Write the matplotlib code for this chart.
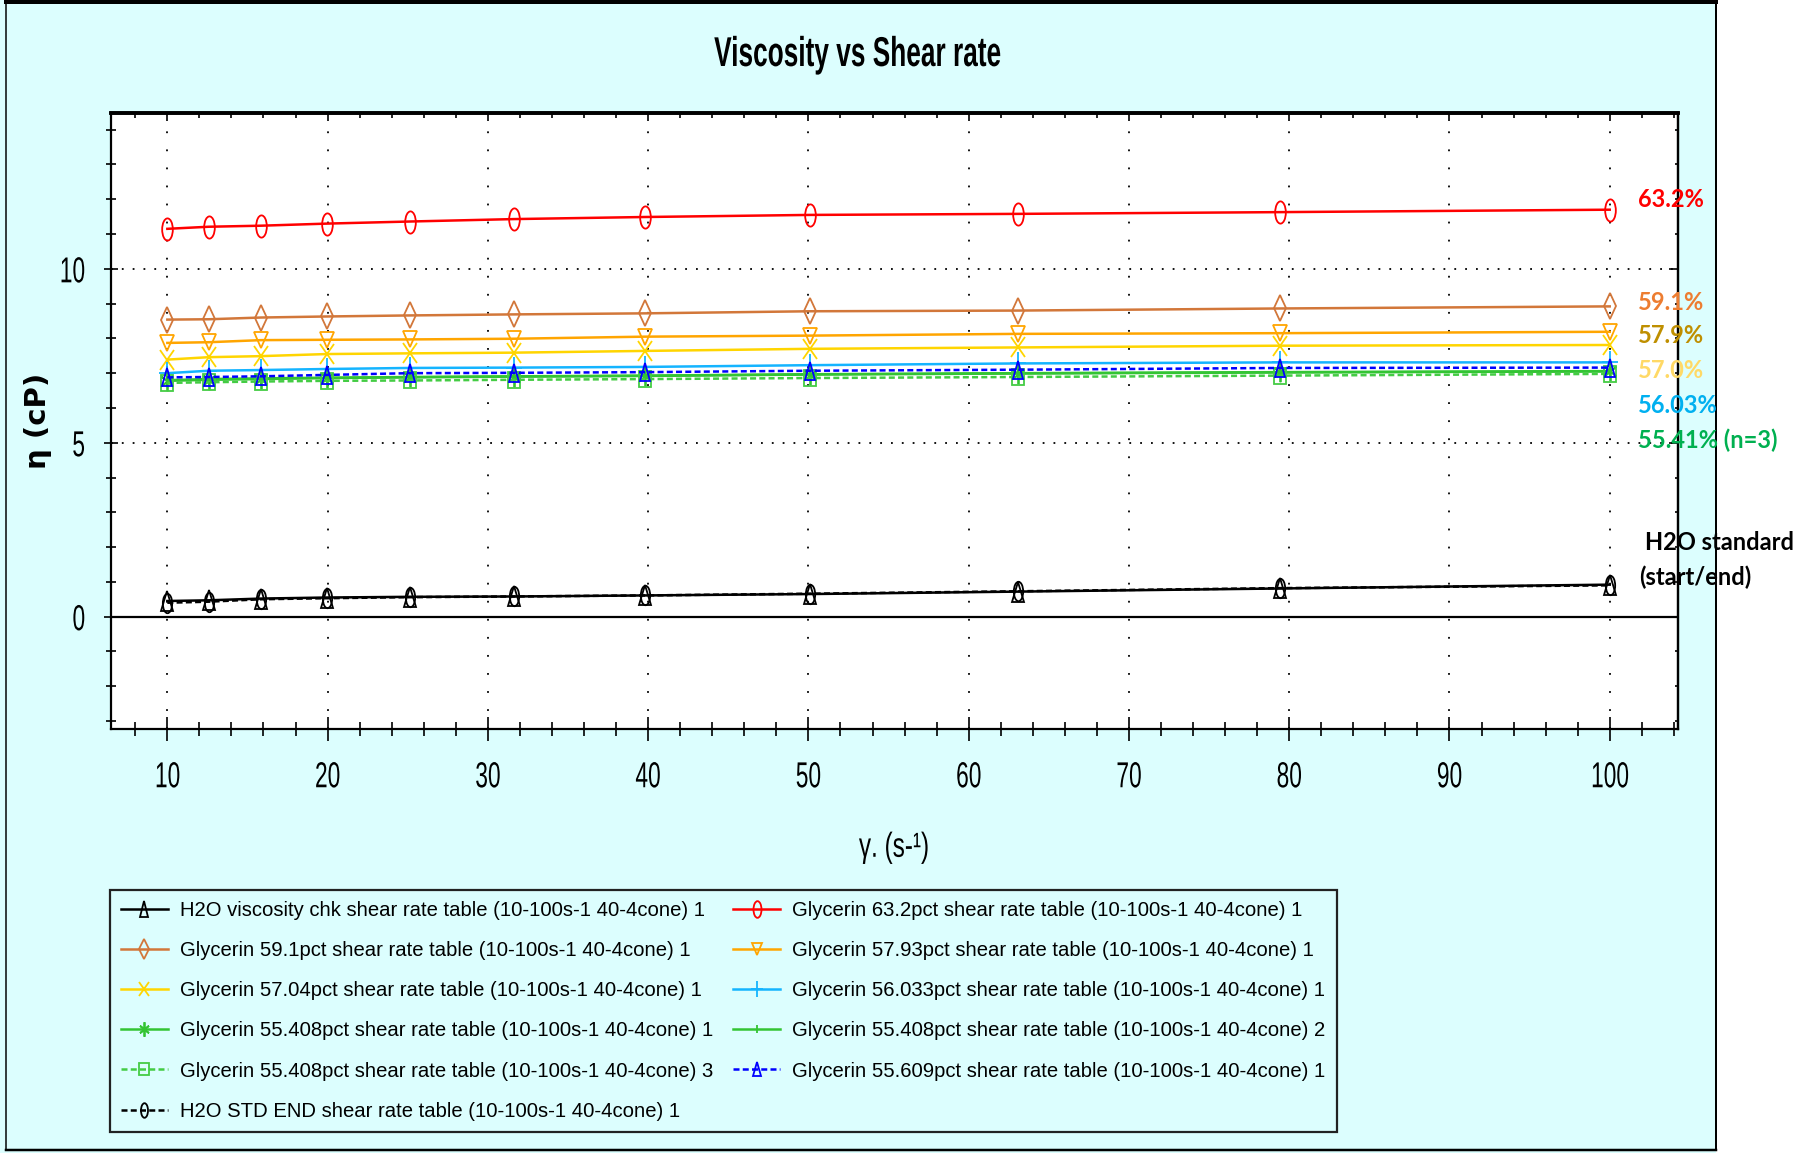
import matplotlib
matplotlib.use("Agg")
import matplotlib.pyplot as plt
from matplotlib.markers import MarkerStyle
from matplotlib.transforms import Affine2D
from matplotlib.ticker import MultipleLocator, FixedLocator
from matplotlib.lines import Line2D
from matplotlib.patches import Rectangle
from matplotlib.patheffects import AbstractPathEffect

# ---- data -----------------------------------------------------------------
shear_rate = [10, 12.59, 15.85, 19.95, 25.12, 31.62, 39.81, 50.12, 63.10, 79.43, 100]

h2o_chk     = [0.45, 0.47, 0.52, 0.55, 0.57, 0.58, 0.61, 0.65, 0.72, 0.81, 0.92]
gly_632     = [11.15, 11.21, 11.24, 11.30, 11.36, 11.43, 11.49, 11.55, 11.58, 11.63, 11.70]
gly_591     = [8.54, 8.55, 8.60, 8.63, 8.66, 8.69, 8.72, 8.78, 8.80, 8.86, 8.92]
gly_5793    = [7.87, 7.89, 7.95, 7.96, 7.97, 7.99, 8.05, 8.08, 8.13, 8.15, 8.19]
gly_5704    = [7.39, 7.46, 7.49, 7.55, 7.57, 7.59, 7.64, 7.70, 7.74, 7.79, 7.81]
gly_56033   = [7.00, 7.07, 7.09, 7.12, 7.15, 7.16, 7.18, 7.23, 7.28, 7.31, 7.31]
gly_55408_1 = [6.78, 6.81, 6.83, 6.86, 6.88, 6.90, 6.92, 6.96, 6.99, 7.02, 7.05]
gly_55408_2 = [6.80, 6.83, 6.85, 6.87, 6.89, 6.91, 6.93, 6.97, 7.00, 7.03, 7.06]
gly_55408_3 = [6.72, 6.74, 6.76, 6.78, 6.79, 6.81, 6.83, 6.86, 6.89, 6.93, 6.98]
gly_55609   = [6.88, 6.89, 6.91, 6.95, 7.00, 7.01, 7.03, 7.07, 7.10, 7.15, 7.16]
h2o_end     = [0.40, 0.43, 0.50, 0.53, 0.56, 0.58, 0.61, 0.66, 0.73, 0.82, 0.90]

labels = [
    "H2O viscosity chk shear rate table (10-100s-1 40-4cone) 1",
    "Glycerin 63.2pct shear rate table (10-100s-1 40-4cone) 1",
    "Glycerin 59.1pct shear rate table (10-100s-1 40-4cone) 1",
    "Glycerin 57.93pct shear rate table (10-100s-1 40-4cone) 1",
    "Glycerin 57.04pct shear rate table (10-100s-1 40-4cone) 1",
    "Glycerin 56.033pct shear rate table (10-100s-1 40-4cone) 1",
    "Glycerin 55.408pct shear rate table (10-100s-1 40-4cone) 1",
    "Glycerin 55.408pct shear rate table (10-100s-1 40-4cone) 2",
    "Glycerin 55.408pct shear rate table (10-100s-1 40-4cone) 3",
    "Glycerin 55.609pct shear rate table (10-100s-1 40-4cone) 1",
    "H2O STD END shear rate table (10-100s-1 40-4cone) 1",
]

note_texts = ["63.2%", "59.1%", "57.9%", "57.0%", "56.03%", "55.41% (n=3)"]
note_colors = ["#FF0000", "#ED7D31", "#BF8F00", "#FFD966", "#00B0F0", "#00B050"]

x_ticks = [10, 20, 30, 40, 50, 60, 70, 80, 90, 100]
y_ticks = [0, 5, 10]


class Condensed(AbstractPathEffect):
    """Squeeze glyphs horizontally about the left, centre or right of the text."""

    def __init__(self, sx, anchor="center"):
        super().__init__()
        self.sx = sx
        self.anchor = anchor

    def draw_path(self, renderer, gc, tpath, affine, rgbFace=None):
        ext = tpath.get_extents(affine)
        if self.anchor == "left":
            cx = ext.x0
        elif self.anchor == "right":
            cx = ext.x1
        else:
            cx = 0.5 * (ext.x0 + ext.x1)
        squeeze = Affine2D().translate(-cx, 0).scale(self.sx, 1.0).translate(cx, 0)
        renderer.draw_path(gc, tpath, affine + squeeze, rgbFace)


# ---- figure ---------------------------------------------------------------
W, H = 1807, 1153
fig = plt.figure(figsize=(W / 100, H / 100), dpi=100, facecolor="white")


def fx(px):
    return px / W


def fy(py):
    return 1 - py / H


SANS = ["Liberation Sans", "DejaVu Sans"]
PANEL = "#DCFEFE"

# light cyan chart panel with its frame
fig.patches.append(Rectangle((0, 0), fx(1716), 1, transform=fig.transFigure,
                             facecolor=PANEL, edgecolor="none", zorder=-10))
for (x0, y0, x1, y1, lw) in [(6, 2, 1716, 2, 4.0), (6, 2, 6, 1150, 1.5),
                             (1716, 2, 1716, 1150, 2.0), (6, 1150, 1716, 1150, 2.5)]:
    fig.lines.append(Line2D([fx(x0), fx(x1)], [fy(y0), fy(y1)], transform=fig.transFigure,
                            color="black", lw=lw * 0.72, zorder=-5))

ax = fig.add_axes([fx(110.6), fy(729), fx(1678) - fx(110.6), fy(113) - fy(729)])
ax.set_facecolor("white")
ax.set_xlim(6.46, 104.26)
ax.set_ylim(-3.23, 14.48)


def mk(shape, sx=0.5):
    return MarkerStyle(shape, fillstyle="none", transform=Affine2D().scale(sx, 1.0))


SOLID = "-"
DASH = (0, (2.4, 1.3))
GREEN = "#33C433"

series = [
    (h2o_chk,     "#000000", SOLID, mk("^", 0.55), 15),
    (gly_632,     "#FF0000", SOLID, mk("o", 0.48), 16),
    (gly_591,     "#D2773A", SOLID, mk("D", 0.5), 13),
    (gly_5793,    "#FFA500", SOLID, mk("v", 0.8), 12),
    (gly_5704,    "#FFD500", SOLID, mk("x", 0.75), 14),
    (gly_56033,   "#14B4FF", SOLID, mk("+", 0.7), 16),
    (gly_55408_1, GREEN,     SOLID, mk((6, 2, 0), 0.7), 14),
    (gly_55408_2, GREEN,     SOLID, mk("|", 1.0), 8),
    (gly_55408_3, "#44CC44", DASH,  mk("s", 0.75), 12),
    (gly_55609,   "#0000FF", DASH,  mk("^", 0.6), 13),
    (h2o_end,     "#000000", DASH,  mk("o", 0.48), 14),
]

handles = []
for (vals, col, ls, marker, ms), lab in zip(series, labels):
    (ln,) = ax.plot(shear_rate, vals, color=col, linestyle=ls, lw=1.8,
                    marker=marker, markersize=ms, markeredgewidth=1.3,
                    markeredgecolor=col, label=lab, zorder=3)
    handles.append(ln)

# zero line and dotted grid
ax.axhline(0, color="black", lw=1.6, zorder=2)
ax.xaxis.set_major_locator(FixedLocator(x_ticks))
ax.xaxis.set_minor_locator(MultipleLocator(2))
ax.yaxis.set_major_locator(FixedLocator(y_ticks))
ax.yaxis.set_minor_locator(MultipleLocator(1))
ax.grid(axis="x", which="major", color="black", lw=1.3, linestyle=(0, (1, 9)), zorder=1)
ax.grid(axis="y", which="major", color="black", lw=1.3, linestyle=(0, (1, 5)), zorder=1)

for side in ["left", "bottom", "right"]:
    ax.spines[side].set_linewidth(1.6)
ax.spines["top"].set_linewidth(2.6)

ax.tick_params(axis="x", which="major", direction="inout", length=17, width=1.2,
               pad=14, labelsize=26, labelfontfamily=SANS)
ax.tick_params(axis="x", which="minor", direction="inout", length=9.5, width=1.2)
ax.tick_params(axis="y", which="major", direction="inout", length=10, width=1.2,
               pad=13, labelsize=26, labelfontfamily=SANS)
ax.tick_params(axis="y", which="minor", direction="inout", length=7, width=1.2)
for lbl in ax.get_xticklabels():
    lbl.set_path_effects([Condensed(0.63, "center")])
for lbl in ax.get_yticklabels():
    lbl.set_path_effects([Condensed(0.63, "right")])

# inward ticks along the top and right edges
top = ax.secondary_xaxis("top")
top.xaxis.set_major_locator(FixedLocator(x_ticks))
top.xaxis.set_minor_locator(MultipleLocator(2))
top.tick_params(which="major", direction="in", length=5.5, width=1.2, labeltop=False)
top.tick_params(which="minor", direction="in", length=3.5, width=1.2)
top.spines["top"].set_linewidth(2.6)
right = ax.secondary_yaxis("right")
right.yaxis.set_major_locator(FixedLocator(y_ticks))
right.yaxis.set_minor_locator(MultipleLocator(1))
right.tick_params(which="major", direction="in", length=6.5, width=1.2, labelright=False)
right.tick_params(which="minor", direction="in", length=2.5, width=1.2)
right.spines["right"].set_linewidth(1.6)

xl = ax.set_xlabel("γ. (s-¹)", fontsize=25, family=SANS, va="center")
xl.set_path_effects([Condensed(0.7, "center")])
ax.xaxis.set_label_coords(0.5, -0.192)
ax.set_ylabel("η (cP)", fontsize=21, fontweight="bold", family="DejaVu Sans", va="center")
ax.yaxis.set_label_coords(-0.0463, 0.5)

title = fig.text(fx(858), fy(55), "Viscosity vs Shear rate", fontsize=30, fontweight="bold",
                 family=SANS, ha="center", va="center")
title.set_path_effects([Condensed(0.63, "center")])

# legend, filled row by row
order = [0, 2, 4, 6, 8, 10, 1, 3, 5, 7, 9]
leg = ax.legend([handles[i] for i in order], [labels[i] for i in order],
                ncol=2, loc="upper left", bbox_to_anchor=(fx(110), fy(890)),
                bbox_transform=fig.transFigure, prop={"family": SANS, "size": 14.6},
                frameon=True, fancybox=False, edgecolor="#222222", facecolor=PANEL,
                framealpha=1, borderpad=0.55, labelspacing=1.04, handlelength=2.3,
                handletextpad=0.6, columnspacing=1.0, borderaxespad=0, markerscale=0.75)
leg.get_frame().set_linewidth(1.6)

# concentration notes beside the curves
note_y = [199, 302, 336, 370, 405, 440]
for txt, col, yy in zip(note_texts, note_colors, note_y):
    fig.text(fx(1638), fy(yy), txt, color=col, fontsize=17, fontweight="bold",
             family=["Lato", "DejaVu Sans"], ha="left", va="center", zorder=5)
fig.text(fx(1645), fy(543), "H2O standard", color="black", fontsize=17, fontweight="bold",
         family=["Lato", "DejaVu Sans"], ha="left", va="center", zorder=5)
fig.text(fx(1639), fy(577), "(start/end)", color="black", fontsize=17, fontweight="bold",
         family=["Lato", "DejaVu Sans"], ha="left", va="center", zorder=5)

fig.savefig("out.png", dpi=100, facecolor=fig.get_facecolor())
